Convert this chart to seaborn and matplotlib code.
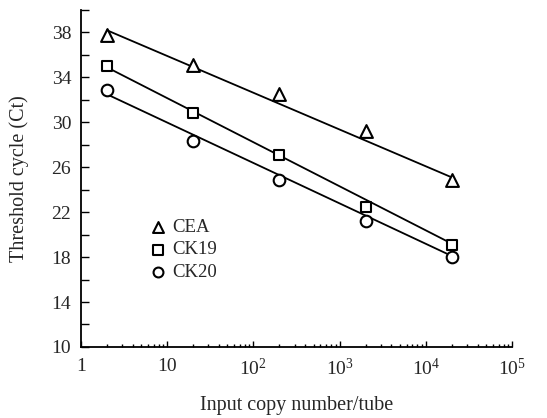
import numpy as np
import pandas as pd
import matplotlib
matplotlib.use("Agg")
import matplotlib.pyplot as plt
import seaborn as sns
from matplotlib.ticker import LogLocator, FixedLocator, NullFormatter

copies = [2, 20, 200, 2000, 20000]
genes = ["CEA", "CK19", "CK20"]
ct_cea = [37.8, 35.1, 32.5, 29.2, 24.9]
ct_ck19 = [35.0, 30.8, 27.1, 22.5, 19.1]
ct_ck20 = [32.9, 28.3, 24.9, 21.2, 18.0]

# standard curve lines as drawn in the figure (Ct at 2 and 2e4 copies)
fit_copies = [2, 20000]
fit_cea = [38.2, 25.1]
fit_ck19 = [34.9, 19.2]
fit_ck20 = [32.5, 18.1]

y_ticks = [10, 14, 18, 22, 26, 30, 34, 38]
y_minor = [12, 16, 20, 24, 28, 32, 36, 40]
x_ticks = [1, 10, 100, 1000, 10000, 100000]
x_tick_labels = ["1", "10", r"$10^{2}$", r"$10^{3}$", r"$10^{4}$", r"$10^{5}$"]

markers = {"CEA": "^", "CK19": "s", "CK20": "o"}
sizes = {"CEA": 85, "CK19": 60, "CK20": 70}

sns.set_style("ticks")
plt.rcParams["font.family"] = ["Liberation Serif", "DejaVu Serif"]
plt.rcParams["mathtext.fontset"] = "custom"
plt.rcParams["mathtext.rm"] = "Liberation Serif"
plt.rcParams["mathtext.it"] = "Liberation Serif:italic"

df = pd.DataFrame({
    "copies": copies * 3,
    "ct": ct_cea + ct_ck19 + ct_ck20,
    "gene": [g for g in genes for _ in copies],
})

fit_df = pd.DataFrame({
    "copies": fit_copies * 3,
    "ct": fit_cea + fit_ck19 + fit_ck20,
    "gene": [g for g in genes for _ in fit_copies],
})

fig = plt.figure(figsize=(5.47, 4.18), dpi=100)
ax = fig.add_axes([0.148, 0.170, 0.788, 0.806])

sns.lineplot(
    data=fit_df, x="copies", y="ct", units="gene", estimator=None,
    color="black", linewidth=1.3, ax=ax, legend=False
)

for g in genes:
    sub = df[df["gene"] == g]
    ax.scatter(
        sub["copies"], sub["ct"],
        marker=markers[g], s=sizes[g],
        facecolor="white", edgecolor="black", linewidth=1.5,
        zorder=3, label=g
    )

ax.set_xscale("log")
ax.set_xlim(1, 1e5)
ax.set_ylim(10, 40)

ax.xaxis.set_minor_locator(LogLocator(base=10, subs=np.arange(2, 10), numticks=20))
ax.xaxis.set_minor_formatter(NullFormatter())
ax.set_xticks(x_ticks)
ax.set_xticklabels(x_tick_labels)

ax.yaxis.set_major_locator(FixedLocator(y_ticks))
ax.yaxis.set_minor_locator(FixedLocator(y_minor))

ax.tick_params(axis="both", which="both", direction="in", color="black", width=1.0)
ax.tick_params(axis="both", which="major", labelsize=14)
ax.tick_params(axis="y", which="both", length=6)
ax.tick_params(axis="y", which="major", pad=7)
ax.tick_params(axis="x", which="major", length=4, pad=8)
ax.tick_params(axis="x", which="minor", length=2.5)

for side in ["left", "bottom"]:
    ax.spines[side].set_linewidth(1.3)
    ax.spines[side].set_color("black")
sns.despine(ax=ax)

ax.set_xlabel("Input copy number/tube", fontsize=14.5, labelpad=12)
ax.set_ylabel("Threshold cycle (Ct)", fontsize=14.5, labelpad=16)

ax.legend(
    loc="center left", bbox_to_anchor=(0.139, 0.288), frameon=False,
    fontsize=13.5, handletextpad=0.35, labelspacing=0.27, borderpad=0,
    handlelength=0.8, markerscale=0.85
)

fig.savefig("out.png", dpi=100)
